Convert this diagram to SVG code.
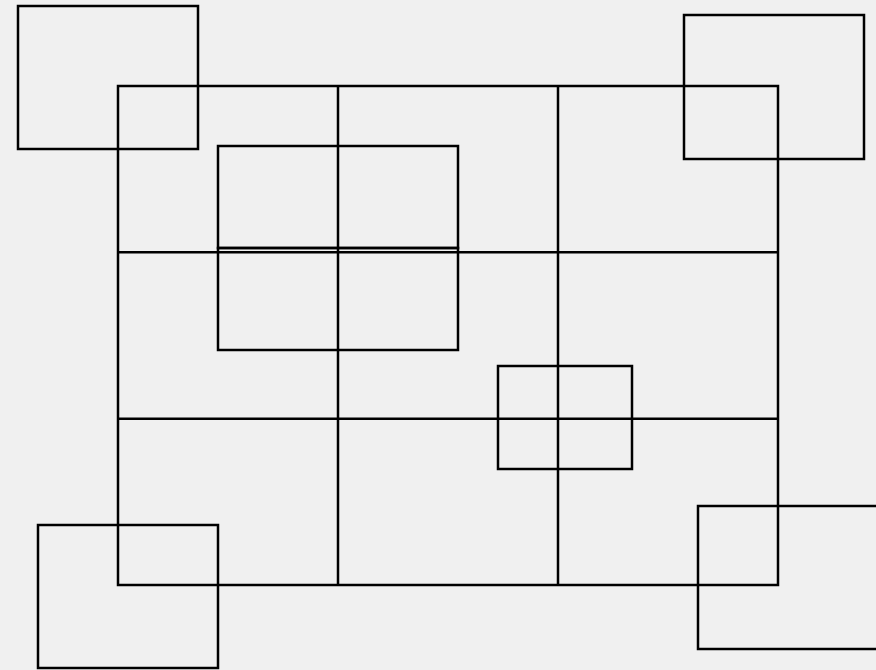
<svg xmlns="http://www.w3.org/2000/svg" width="876" height="670" viewBox="0 0 876 670">
<style>
.s{fill:none;stroke:#000;stroke-width:2.5}
</style>
<rect x="0" y="0" width="876" height="670" fill="#f0f0f0"/>
<g id="grid">
<rect class="s" x="118" y="86" width="660" height="499"/>
<line class="s" x1="338" y1="86" x2="338" y2="585"/>
<line class="s" x1="558" y1="86" x2="558" y2="585"/>
<line class="s" x1="118" y1="252.3" x2="778" y2="252.3"/>
<line class="s" x1="118" y1="418.7" x2="778" y2="418.7"/>
</g>
<g id="box-top-left"><rect class="s" x="18" y="6" width="180" height="143"/></g>
<g id="box-top-right"><rect class="s" x="684" y="15" width="180" height="144"/></g>
<g id="box-bottom-left"><rect class="s" x="38" y="525" width="180" height="143"/></g>
<g id="box-bottom-right"><rect class="s" x="698" y="506" width="180" height="143"/></g>
<g id="box-inner-upper"><rect class="s" x="218" y="146" width="240" height="102"/></g>
<g id="box-inner-lower"><rect class="s" x="218" y="248" width="240" height="102"/></g>
<g id="box-small"><rect class="s" x="498" y="366" width="134" height="103"/></g>
</svg>
